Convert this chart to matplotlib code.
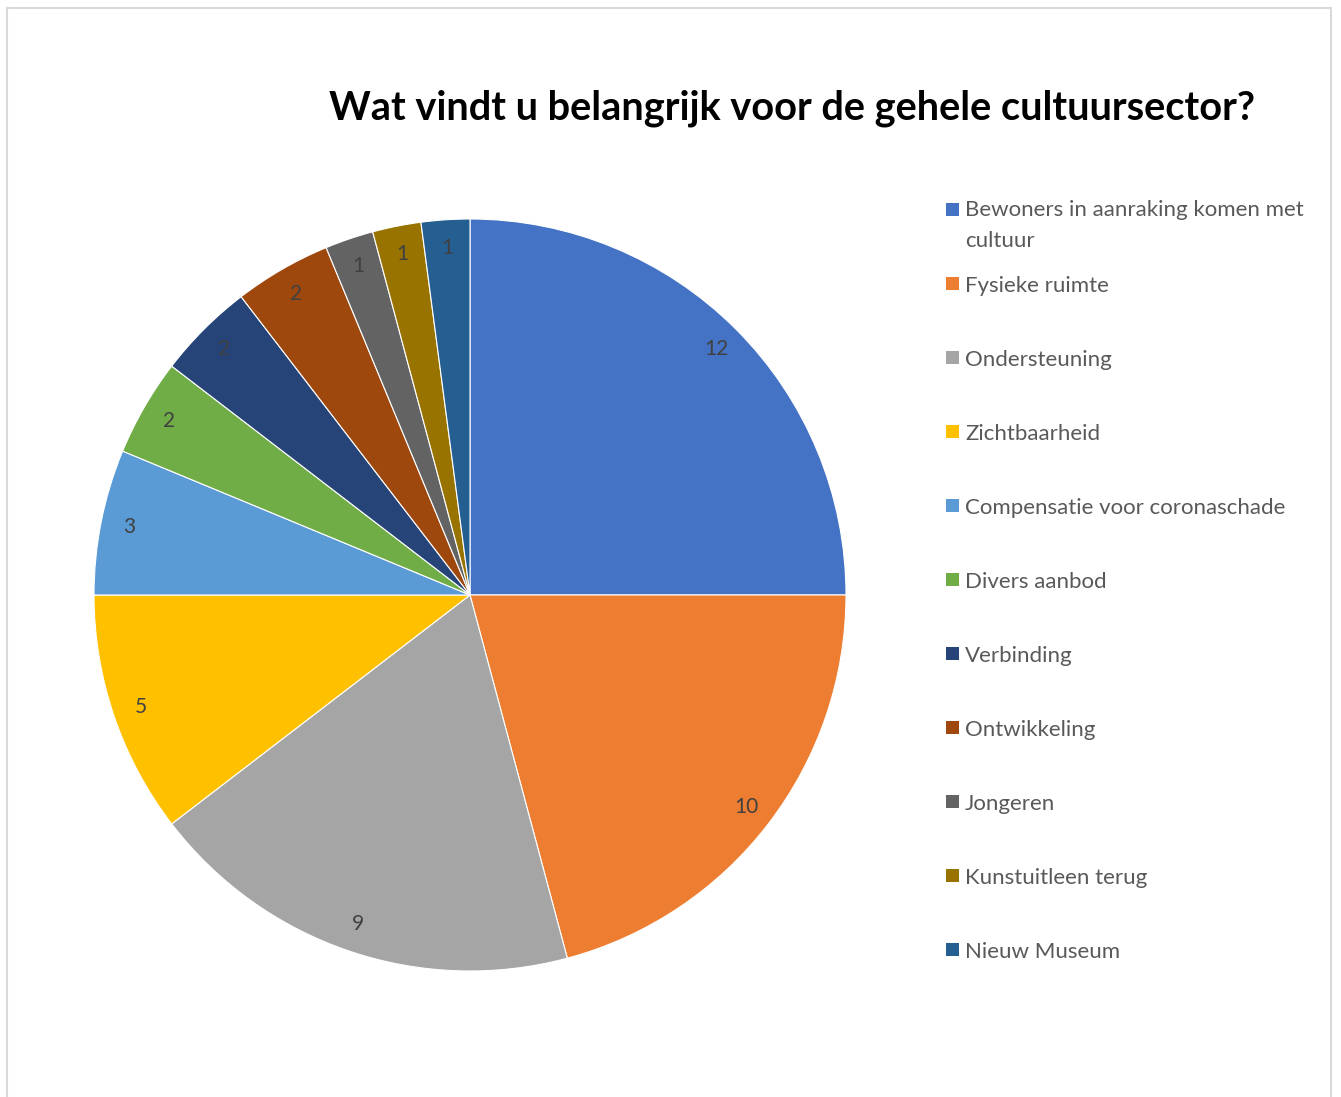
import matplotlib
matplotlib.use("Agg")
import matplotlib.pyplot as plt
from matplotlib.patches import Rectangle

categories = [
    "Bewoners in aanraking komen met\ncultuur",
    "Fysieke ruimte",
    "Ondersteuning",
    "Zichtbaarheid",
    "Compensatie voor coronaschade",
    "Divers aanbod",
    "Verbinding",
    "Ontwikkeling",
    "Jongeren",
    "Kunstuitleen terug",
    "Nieuw Museum",
]
values = [12, 10, 9, 5, 3, 2, 2, 2, 1, 1, 1]
colors = ["#4472C4", "#ED7D31", "#A5A5A5", "#FFC000", "#5B9BD5", "#70AD47",
          "#264478", "#9E480E", "#636363", "#997300", "#255E91"]
title = "Wat vindt u belangrijk voor de gehele cultuursector?"

plt.rcParams['font.family'] = ['Lato', 'DejaVu Sans']

W, H = 1341, 1097
fig = plt.figure(figsize=(W / 100, H / 100), dpi=100)
fig.patch.set_facecolor("white")

# outer frame
fig.patches.append(Rectangle((7 / W, -0.01), (1331 - 7) / W, 1 - 8 / H + 0.01,
                             transform=fig.transFigure, fill=False,
                             edgecolor="#D9D9D9", linewidth=1.5))

cx, cy, r = 470, 595, 376
ax = fig.add_axes([(cx - r) / W, 1 - (cy + r) / H, 2 * r / W, 2 * r / H])
wedges, texts = ax.pie(values, colors=colors, startangle=90, counterclock=False,
                       labels=[str(v) for v in values], labeldistance=0.925,
                       wedgeprops=dict(edgecolor="white", linewidth=0.8),
                       textprops=dict(color="#404040", fontsize=15))
for t in texts:
    t.set_horizontalalignment("center")
    t.set_verticalalignment("center")
ax.set_xlim(-1, 1)
ax.set_ylim(-1, 1)
ax.set_aspect("equal")
ax.axis("off")

fig.text(792 / W, 1 - 108 / H, title, ha="center", va="center",
         fontsize=28.6, fontweight="bold", color="black")

# legend
y0 = 210
step = 74
for i, (cat, col) in enumerate(zip(categories, colors)):
    y = y0 + i * step
    fig.patches.append(Rectangle((946 / W, 1 - (y + 6) / H), 13 / W, 13 / H,
                                 transform=fig.transFigure, facecolor=col,
                                 edgecolor="none"))
    if "\n" in cat:
        fig.text(965 / W, 1 - (y - 10) / H, cat, ha="left", va="top",
                 fontsize=16, color="#595959", linespacing=1.68)
    else:
        fig.text(965 / W, 1 - (y + 2) / H, cat, ha="left", va="center",
                 fontsize=16, color="#595959")

fig.savefig("out.png", dpi=100, facecolor="white")
